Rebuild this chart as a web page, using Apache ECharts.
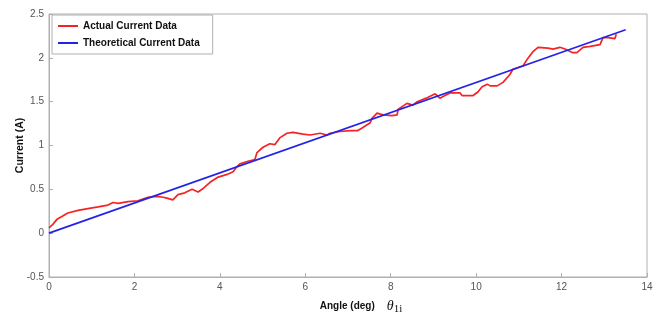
<!DOCTYPE html>
<html>
<head>
<meta charset="utf-8">
<script src="https://cdn.jsdelivr.net/npm/echarts@6/dist/echarts.min.js"></script>
<style>html,body{margin:0;padding:0;background:#fff;}#c{width:665px;height:320px;}</style>
</head>
<body>
<div id="c"></div>
<script>
var angleX = [0,0.09,0.19,0.30,0.44,0.68,0.91,1.15,1.38,1.50,1.62,1.85,2.08,2.32,2.53,2.67,2.76,2.90,3.02,3.18,3.35,3.49,3.61,3.77,3.96,4.17,4.31,4.40,4.47,4.66,4.82,4.87,5.01,5.17,5.29,5.41,5.57,5.71,5.95,6.11,6.35,6.51,6.58,6.81,7.05,7.23,7.33,7.52,7.56,7.68,7.82,8.03,8.15,8.17,8.38,8.52,8.62,8.83,9.04,9.15,9.27,9.39,9.62,9.67,9.93,10.04,10.14,10.26,10.33,10.49,10.63,10.79,10.86,11.10,11.19,11.33,11.45,11.68,11.80,11.96,12.08,12.25,12.36,12.50,12.67,12.90,12.97,13.09,13.25,13.28];
var actualCurrent = [0.06,0.10,0.16,0.19,0.23,0.26,0.28,0.30,0.32,0.35,0.34,0.36,0.37,0.41,0.42,0.41,0.40,0.38,0.44,0.46,0.50,0.47,0.51,0.58,0.64,0.67,0.70,0.76,0.79,0.82,0.84,0.92,0.98,1.02,1.01,1.09,1.14,1.15,1.13,1.12,1.14,1.12,1.14,1.16,1.17,1.17,1.20,1.26,1.31,1.37,1.35,1.34,1.35,1.41,1.48,1.46,1.50,1.54,1.59,1.54,1.57,1.60,1.60,1.57,1.57,1.61,1.67,1.70,1.68,1.68,1.72,1.81,1.87,1.91,1.98,2.07,2.12,2.11,2.10,2.12,2.10,2.06,2.06,2.12,2.13,2.15,2.23,2.23,2.22,2.27];
var theoX = [0, 13.5];
var theoCurrent = [0, 2.32];
var xTicks = {min: 0, max: 14, interval: 2};
var yTicks = {min: -0.5, max: 2.5, interval: 0.5};

function pairs(xs, ys){ return xs.map(function(x,i){ return [x, ys[i]]; }); }

var chart = echarts.init(document.getElementById('c'), null, {renderer:'canvas'});
var font = 'Liberation Sans, Arial, sans-serif';
chart.setOption({
  animation: false,
  backgroundColor: '#fff',
  grid: {left: 49, right: 18, top: 14, bottom: 37, show: true, borderColor: '#b0b0b0', borderWidth: 1},
  legend: {
    left: 52, top: 15, orient: 'vertical',
    backgroundColor: '#fff', borderColor: '#b0b0b0', borderWidth: 1,
    padding: [6, 13, 6, 6], itemGap: 7,
    itemWidth: 20, itemHeight: 2, icon: 'rect',
    textStyle: {fontFamily: font, fontWeight: 'bold', fontSize: 10, color: '#111'},
    data: ['Actual Current Data', 'Theoretical Current Data']
  },
  xAxis: {
    type: 'value', min: xTicks.min, max: xTicks.max, interval: xTicks.interval,
    name: '{a|Angle (deg)}{g|}{t|θ}{s|1i}', nameLocation: 'middle', nameGap: 20,
    nameMoveOverlap: false,
    nameTextStyle: {padding: [0, 0, 0, 26], rich: {
      a: {fontFamily: font, fontWeight: 'bold', fontSize: 10, color: '#111'},
      g: {width: 12},
      t: {fontFamily: 'Liberation Serif, serif', fontStyle: 'italic', fontSize: 14, color: '#111'},
      s: {fontFamily: 'Liberation Serif, serif', fontSize: 11, color: '#111', padding: [7, 0, 0, 0]}
    }},
    axisLine: {show: true, onZero: false, lineStyle: {color: '#b0b0b0'}},
    axisTick: {show: true, inside: true, length: 4, lineStyle: {color: '#b0b0b0'}},
    axisLabel: {fontFamily: font, fontSize: 10, color: '#555', margin: 5},
    splitLine: {show: false}
  },
  yAxis: {
    type: 'value', min: yTicks.min, max: yTicks.max, interval: yTicks.interval,
    name: 'Current (A)', nameLocation: 'middle', nameGap: 23,
    nameMoveOverlap: false,
    nameTextStyle: {fontFamily: font, fontWeight: 'bold', fontSize: 10.5, color: '#111'},
    axisLine: {show: true, onZero: false, lineStyle: {color: '#b0b0b0'}},
    axisTick: {show: true, inside: true, length: 4, lineStyle: {color: '#b0b0b0'}},
    axisLabel: {fontFamily: font, fontSize: 10, color: '#555', margin: 5},
    splitLine: {show: false}
  },
  series: [
    {name: 'Actual Current Data', type: 'line', data: pairs(angleX, actualCurrent),
     showSymbol: false, symbol: 'none', lineStyle: {color: '#f52323', width: 1.7}, itemStyle: {color: '#f52323'}, z: 2},
    {name: 'Theoretical Current Data', type: 'line', data: pairs(theoX, theoCurrent),
     showSymbol: false, symbol: 'none', lineStyle: {color: '#2323e8', width: 1.7}, itemStyle: {color: '#2323e8'}, z: 3}
  ]
});
</script>
</body>
</html>
